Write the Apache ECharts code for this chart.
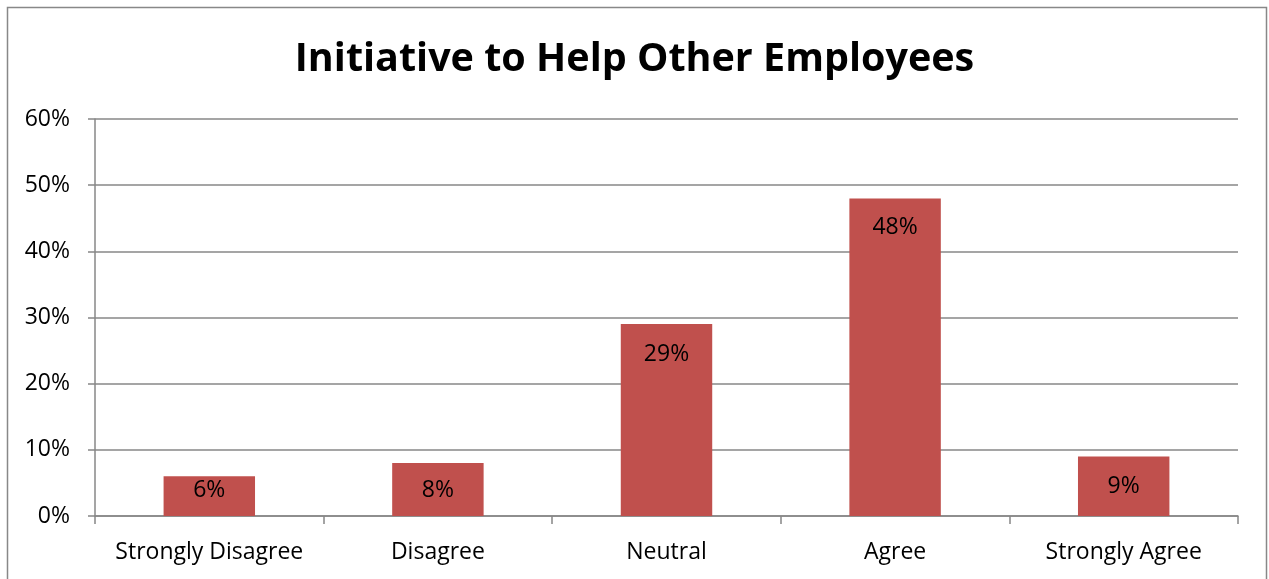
<!DOCTYPE html>
<html>
<head>
<meta charset="utf-8">
<script src="https://cdn.jsdelivr.net/npm/echarts@6/dist/echarts.min.js"></script>
<style>
  html, body { margin: 0; padding: 0; background: #fff; }
  #chart { width: 1269px; height: 579px; }
</style>
</head>
<body>
<div id="chart"></div>
<script>
// Survey responses: share of employees taking initiative to help others
var categories = ['Strongly Disagree', 'Disagree', 'Neutral', 'Agree', 'Strongly Agree'];
var shares = [6, 8, 29, 48, 9];
var yTicks = [0, 10, 20, 30, 40, 50, 60];

var FONT = '"Open Sans", "Noto Sans", sans-serif';
var GRID_COLOR = '#878787';

// Short bars keep their label nearer the top edge so it stays inside the bar
var labelGap = [3, 16, 19, 18, 19];

var chart = echarts.init(document.getElementById('chart'));
chart.setOption({
  animation: false,
  backgroundColor: '#ffffff',
  title: {
    text: 'Initiative to Help Other Employees',
    left: 'center',
    top: 35,
    textStyle: { fontFamily: FONT, fontSize: 39.5, fontWeight: 'bold', color: '#000' }
  },
  graphic: [{
    type: 'rect',
    shape: { x: 7.5, y: 7.5, width: 1259, height: 620 },
    style: { fill: 'none', stroke: '#888888', lineWidth: 1.5 },
    silent: true
  }],
  grid: { left: 95, right: 31, top: 119, bottom: 63 },
  xAxis: {
    type: 'category',
    data: categories,
    boundaryGap: true,
    axisLine: { lineStyle: { color: GRID_COLOR, width: 1.5 } },
    axisTick: { show: true, interval: 0, length: 8, lineStyle: { color: GRID_COLOR, width: 1.5 } },
    axisLabel: { interval: 0, hideOverlap: false, color: '#000', fontFamily: FONT, fontSize: 23, margin: 25 }
  },
  yAxis: {
    type: 'value',
    min: yTicks[0],
    max: yTicks[yTicks.length - 1],
    interval: 10,
    axisLine: { show: true, lineStyle: { color: GRID_COLOR, width: 1.5 } },
    axisTick: { show: true, length: 7, lineStyle: { color: GRID_COLOR, width: 1.5 } },
    splitLine: { lineStyle: { color: GRID_COLOR, width: 1.5 } },
    axisLabel: { color: '#000', fontFamily: FONT, fontSize: 23, margin: 25, formatter: '{value}%' }
  },
  series: [{
    type: 'bar',
    barCategoryGap: '60%',
    itemStyle: { color: '#C0504D' },
    data: shares.map(function (v, i) {
      return {
        value: v,
        label: { distance: labelGap[i] }
      };
    }),
    label: {
      show: true,
      position: 'insideTop',
      color: '#000',
      fontFamily: FONT,
      fontSize: 23,
      lineHeight: 23,
      formatter: '{c}%'
    }
  }]
});
</script>
</body>
</html>
